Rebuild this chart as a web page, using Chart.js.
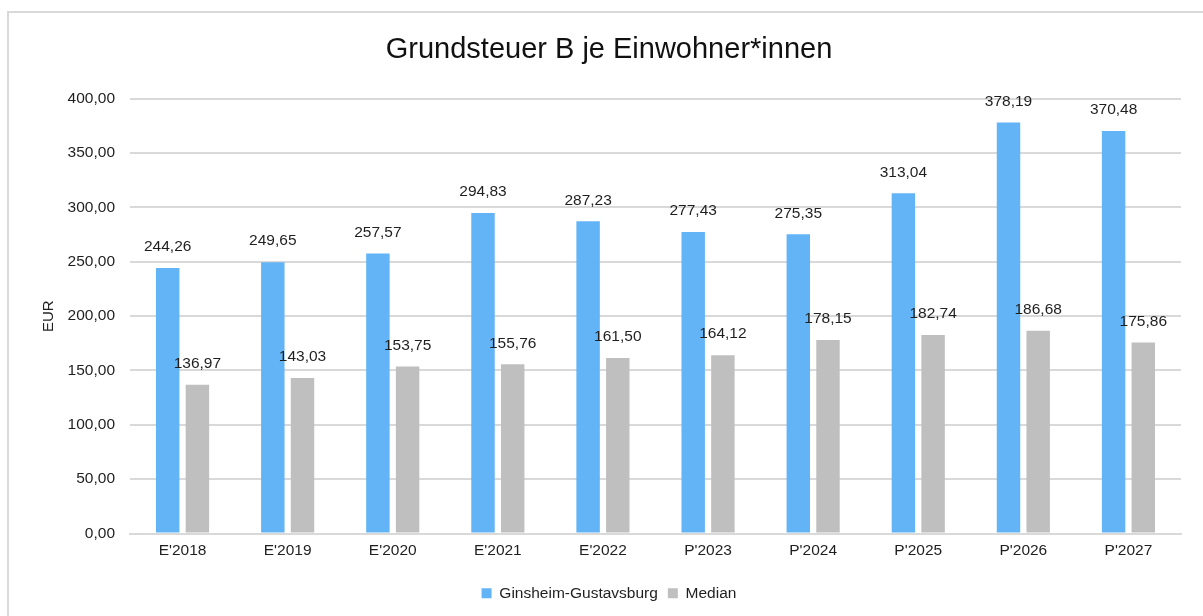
<!DOCTYPE html>
<html>
<head>
<meta charset="utf-8">
<script src="https://cdn.jsdelivr.net/npm/chart.js@4/dist/chart.umd.min.js"></script>
<style>
  html, body { margin: 0; padding: 0; background: #ffffff; }
  #wrap { position: relative; width: 1203px; height: 616px; }
</style>
</head>
<body>
<div id="wrap"><canvas id="c" width="1203" height="616"></canvas></div>
<script>
const categories = ["E'2018", "E'2019", "E'2020", "E'2021", "E'2022", "P'2023", "P'2024", "P'2025", "P'2026", "P'2027"];
const ginsheimValues = [244.26, 249.65, 257.57, 294.83, 287.23, 277.43, 275.35, 313.04, 378.19, 370.48];
const medianValues = [136.97, 143.03, 153.75, 155.76, 161.50, 164.12, 178.15, 182.74, 186.68, 175.86];
const seriesNames = ["Ginsheim-Gustavsburg", "Median"];
const chartTitle = "Grundsteuer B je Einwohner*innen";
const yAxisTitle = "EUR";

const FONT = "'Liberation Sans', Arial, sans-serif";
const FS = 15.5;
const fmt = v => v.toLocaleString('de-DE', { minimumFractionDigits: 2, maximumFractionDigits: 2 });

const borderPlugin = {
  id: 'outerBorder',
  beforeDraw(chart) {
    const ctx = chart.ctx;
    ctx.save();
    ctx.fillStyle = '#ffffff';
    ctx.fillRect(0, 0, chart.width, chart.height);
    ctx.strokeStyle = '#d9d9d9';
    ctx.lineWidth = 2;
    ctx.strokeRect(8, 12, 1400, 800);
    ctx.restore();
  }
};

const labelPlugin = {
  id: 'valueLabels',
  afterDatasetsDraw(chart) {
    const ctx = chart.ctx;
    ctx.save();
    ctx.font = FS + "px " + FONT;
    ctx.fillStyle = '#1f1f1f';
    ctx.textAlign = 'center';
    ctx.textBaseline = 'middle';
    chart.data.datasets.forEach((ds, di) => {
      const meta = chart.getDatasetMeta(di);
      meta.data.forEach((el, i) => {
        ctx.fillText(fmt(ds.data[i]), el.x, el.y - 21);
      });
    });
    ctx.restore();
  }
};

new Chart(document.getElementById('c'), {
  type: 'bar',
  data: {
    labels: categories,
    datasets: [
      { label: seriesNames[0], data: ginsheimValues, backgroundColor: '#63b4f6', borderWidth: 0,
        categoryPercentage: 0.565, barPercentage: 0.79 },
      { label: seriesNames[1], data: medianValues, backgroundColor: '#bfbfbf', borderWidth: 0,
        categoryPercentage: 0.565, barPercentage: 0.79 }
    ]
  },
  options: {
    responsive: false,
    animation: false,
    devicePixelRatio: 1,
    layout: { padding: { top: 20, left: 37, right: 22, bottom: 5 } },
    plugins: {
      title: {
        display: true, text: chartTitle, color: '#111111',
        font: { family: FONT, size: 29, weight: 'normal' },
        padding: { top: 13, bottom: 31 }
      },
      legend: {
        position: 'bottom',
        labels: {
          color: '#1f1f1f', boxWidth: 10, boxHeight: 10,
          font: { family: FONT, size: FS }, padding: 10
        }
      },
      tooltip: { enabled: false }
    },
    scales: {
      x: {
        grid: { display: false, drawTicks: false },
        border: { display: true, color: '#d9d9d9', width: 2 },
        ticks: { color: '#1f1f1f', font: { family: FONT, size: FS }, padding: 8, maxRotation: 0 },
        afterFit(scale) { scale.height = 42; }
      },
      y: {
        min: 0, max: 400,
        ticks: { stepSize: 50, color: '#1f1f1f', font: { family: FONT, size: FS }, padding: 15,
          callback: v => fmt(v) },
        grid: { color: '#d9d9d9', lineWidth: 2, drawTicks: false },
        border: { display: false },
        title: { display: true, text: yAxisTitle, color: '#1f1f1f',
          font: { family: FONT, size: 15 }, padding: { top: 3, bottom: 0 } },
        afterFit(scale) { scale.width = 93; }
      }
    }
  },
  plugins: [borderPlugin, labelPlugin]
});
</script>
</body>
</html>
